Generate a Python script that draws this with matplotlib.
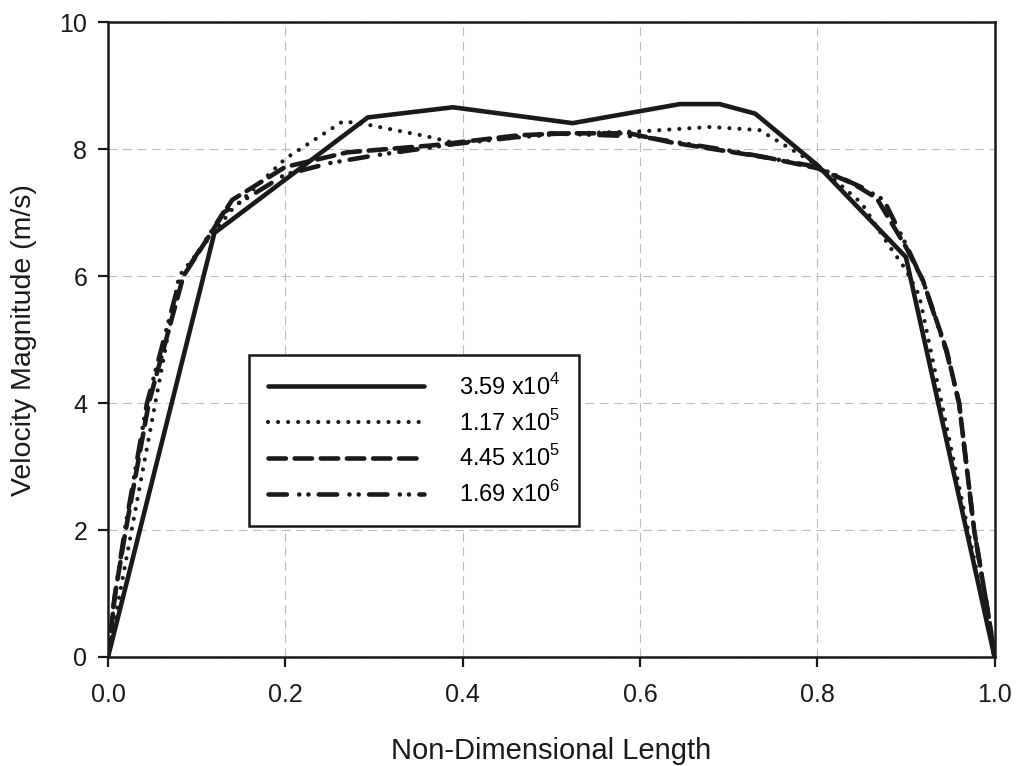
import matplotlib
matplotlib.use('Agg')
import matplotlib.pyplot as plt
from matplotlib.ticker import FormatStrFormatter

plt.rcParams['font.family'] = ['Liberation Sans', 'DejaVu Sans']
plt.rcParams['mathtext.fontset'] = 'custom'
plt.rcParams['mathtext.rm'] = 'Liberation Sans'

# Reynolds number cases
labels = [r'3.59 x10$^{4}$', r'1.17 x10$^{5}$', r'4.45 x10$^{5}$', r'1.69 x10$^{6}$']

x_a = [0, 0.12, 0.293, 0.389, 0.524, 0.645, 0.69, 0.73, 0.80, 0.86, 0.90, 1.0]
v_a = [0, 6.68, 8.5, 8.66, 8.41, 8.71, 8.71, 8.56, 7.75, 6.88, 6.3, 0]

x_b = [0, 0.02, 0.08, 0.14, 0.2, 0.265, 0.295, 0.36, 0.39, 0.52, 0.6, 0.68,
       0.735, 0.8, 0.85, 0.88, 0.9, 0.915, 1.0]
v_b = [0, 1.5, 6.0, 7.05, 7.85, 8.44, 8.38, 8.2, 8.1, 8.25, 8.28, 8.35,
       8.3, 7.75, 7.15, 6.5, 6.1, 5.7, 0]

x_c = [0, 0.008, 0.02, 0.046, 0.085, 0.14, 0.2, 0.27, 0.366, 0.464, 0.52, 0.588,
       0.634, 0.679, 0.746, 0.8, 0.84, 0.867, 0.9, 0.919, 0.946, 0.96, 0.977, 0.995, 1.0]
v_c = [0, 1.0, 2.0, 4.0, 6.0, 7.2, 7.72, 7.95, 8.06, 8.22, 8.25, 8.25,
       8.11, 8.01, 7.86, 7.7, 7.46, 7.23, 6.46, 5.94, 4.83, 4.0, 2.0, 0.5, 0]

x_d = [0, 0.006, 0.019, 0.044, 0.08, 0.13, 0.2, 0.25, 0.3, 0.39, 0.5, 0.6,
       0.7, 0.8, 0.85, 0.875, 0.9, 0.92, 0.946, 0.96, 0.977, 0.995, 1.0]
v_d = [0, 0.8, 2.0, 4.0, 5.9, 7.0, 7.6, 7.78, 7.9, 8.08, 8.25, 8.2,
       7.98, 7.72, 7.4, 7.2, 6.5, 5.9, 4.8, 4.0, 2.0, 0.5, 0]

fig = plt.figure(figsize=(10.19, 7.66), dpi=100)
ax = fig.add_axes([0.106, 0.1423, 0.87, 0.8287])

ink = '#1a1a1a'
ax.plot(x_a, v_a, color=ink, lw=3.3, label=labels[0], solid_capstyle='round',
        solid_joinstyle='round')
ax.plot(x_b, v_b, color=ink, lw=3.0, label=labels[1],
        linestyle=(0, (0.01, 2.4)), dash_capstyle='round')
ax.plot(x_c, v_c, color=ink, lw=3.3, label=labels[2],
        linestyle=(0, (3.8, 1.9)), dash_capstyle='round')
ax.plot(x_d, v_d, color=ink, lw=3.3, label=labels[3],
        linestyle=(0, (4.0, 2.7, 0.01, 2.0, 0.01, 2.25)), dash_capstyle='round')

ax.set_xlim(0, 1.0)
ax.set_ylim(0, 10)
ax.set_xticks([0, 0.2, 0.4, 0.6, 0.8, 1.0])
ax.set_yticks([0, 2, 4, 6, 8, 10])
ax.xaxis.set_major_formatter(FormatStrFormatter('%.1f'))
ax.tick_params(axis='both', direction='out', length=7, width=1.6, labelsize=18,
               colors=ink)
ax.tick_params(axis='x', pad=12)
ax.tick_params(axis='y', pad=8)
for s in ax.spines.values():
    s.set_linewidth(1.8)
    s.set_color(ink)

ax.grid(True, color='#bdbdbd', lw=0.8, linestyle=(0, (8, 5)))
ax.set_axisbelow(True)

ax.set_xlabel('Non-Dimensional Length', fontsize=21, color=ink)
ax.set_ylabel('Velocity Magnitude (m/s)', fontsize=20.5, color=ink)
ax.xaxis.set_label_coords(0.5, -0.126)
ax.yaxis.set_label_coords(-0.080, 0.5)

leg = ax.legend(loc='upper left', bbox_to_anchor=(0.159, 0.476), fontsize=17,
                handlelength=6.6, handletextpad=1.5, labelspacing=0.42,
                borderpad=0.8, borderaxespad=0, fancybox=False, framealpha=1,
                edgecolor=ink)
leg.get_frame().set_linewidth(1.8)

fig.savefig('out.png', dpi=100)
